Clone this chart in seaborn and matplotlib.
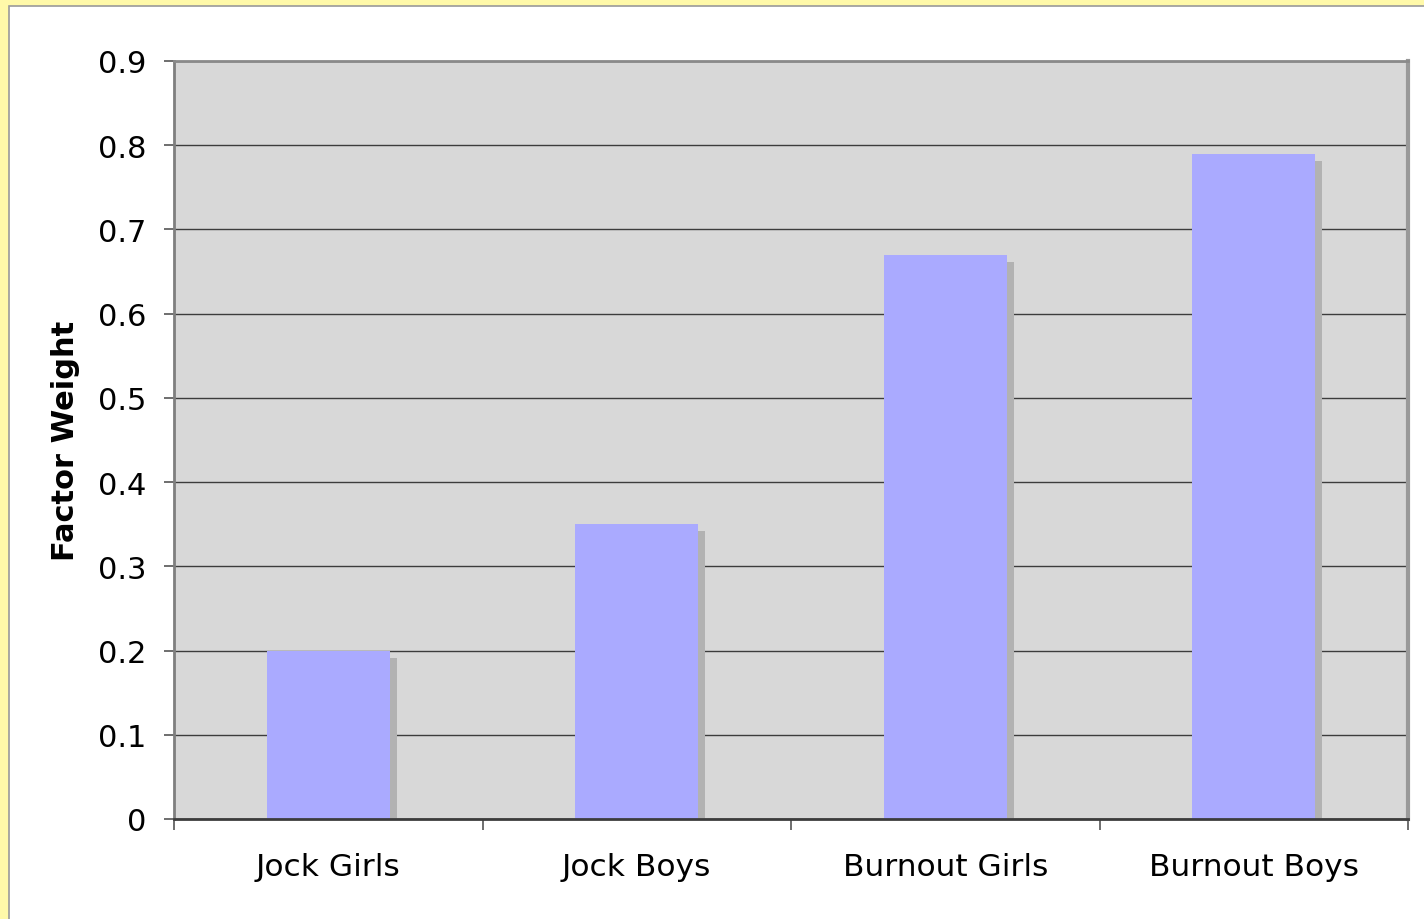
import matplotlib
matplotlib.use("Agg")
import matplotlib.pyplot as plt
import matplotlib.patheffects as pe
from matplotlib.patches import Rectangle
from matplotlib.ticker import FixedLocator
import seaborn as sns
import pandas as pd

groups = ["Jock Girls", "Jock Boys", "Burnout Girls", "Burnout Boys"]
factor_weight = [0.20, 0.35, 0.67, 0.79]
y_ticks = [0, 0.1, 0.2, 0.3, 0.4, 0.5, 0.6, 0.7, 0.8, 0.9]
y_tick_labels = ["0", "0.1", "0.2", "0.3", "0.4", "0.5", "0.6", "0.7", "0.8", "0.9"]

df = pd.DataFrame({"group": groups, "weight": factor_weight})

sns.set_theme(style="white")
plt.rcParams["font.family"] = ["DejaVu Sans"]

fig = plt.figure(figsize=(14.24, 9.2), dpi=100)
W, H = 1424, 920

# page frame: pale yellow margin with a white sheet
fig.patches.append(Rectangle((0, 0), 1, 1, transform=fig.transFigure,
                             facecolor="#fff9a9", edgecolor="none", zorder=-10))
fig.patches.append(Rectangle((8.5 / W, -0.01), 1.02, (H - 6.5) / H + 0.01,
                             transform=fig.transFigure, facecolor="white",
                             edgecolor="#9a9a9a", linewidth=1.2, zorder=-9))

ax = fig.add_axes([174 / W, (H - 820) / H, (1408 - 174) / W, (820 - 62) / H])
ax.set_facecolor("#d8d8d8")

sns.barplot(data=df, x="group", y="weight", color="#aaaaff", saturation=1,
            width=0.4, ax=ax, zorder=3)

for bar in ax.patches:
    bar.set_edgecolor("none")
    bar.set_path_effects([
        pe.SimplePatchShadow(offset=(5, -5), shadow_rgbFace="#b2b2b2", alpha=1.0),
        pe.Normal(),
    ])

ax.set_ylim(0, 0.9)
ax.set_xlim(-0.5, len(groups) - 0.5)
ax.set_yticks(y_ticks)
ax.set_yticklabels(y_tick_labels)

ax.yaxis.grid(True, color="#3c3c3c", linewidth=1.0, zorder=1)
ax.xaxis.grid(False)
ax.set_axisbelow(True)

# category boundary ticks on the x axis
ax.xaxis.set_minor_locator(FixedLocator([i - 0.5 for i in range(len(groups) + 1)]))
ax.tick_params(axis="x", which="minor", bottom=True, length=8, width=1.2,
               color="#555555", direction="out")
ax.tick_params(axis="x", which="major", bottom=True, length=0, pad=24,
               labelsize=22.5, labelcolor="black")
ax.tick_params(axis="y", which="major", left=True, length=7, width=1.2,
               color="#555555", direction="out", pad=13, labelsize=22,
               labelcolor="black")

for side, col, lw in [("left", "#7f7f7f", 2.0), ("top", "#8a8a8a", 2.0),
                      ("right", "#999999", 3.0), ("bottom", "#3c3c3c", 2.0)]:
    ax.spines[side].set_visible(True)
    ax.spines[side].set_color(col)
    ax.spines[side].set_linewidth(lw)
    ax.spines[side].set_zorder(5)

ax.set_xlabel("")
ax.set_ylabel("Factor Weight", fontsize=22, fontweight="bold", color="black")
ax.yaxis.set_label_coords(-0.076, 0.5)

fig.savefig("out.png", dpi=100)
